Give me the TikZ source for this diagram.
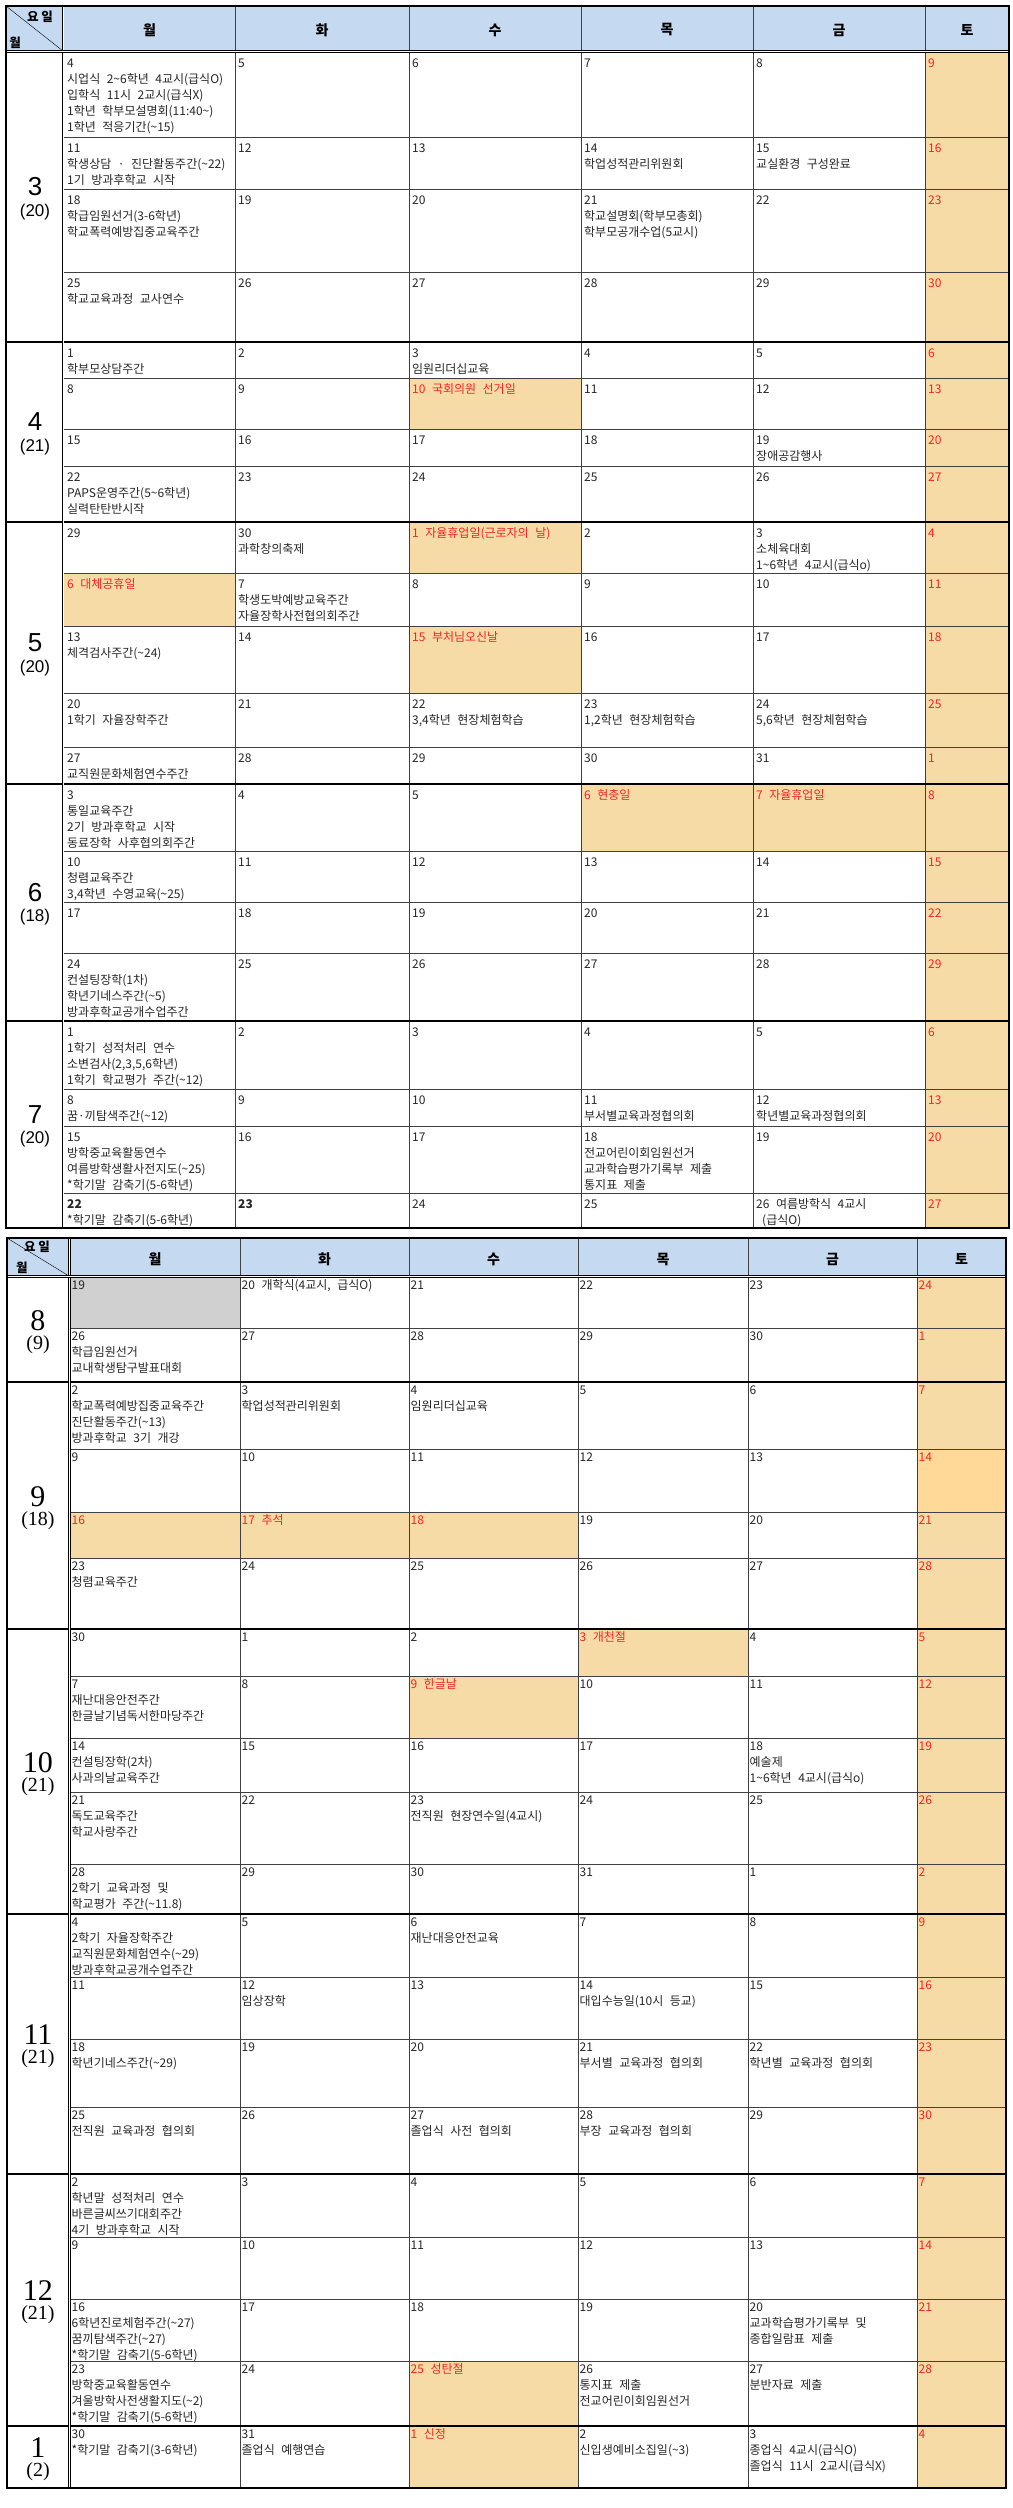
\documentclass[tikz,border=0pt]{standalone}
\usepackage{fontspec}
\setmainfont{Noto Sans CJK KR}
\newfontfamily\armono{Liberation Sans}
\newfontfamily\tmsf{Liberation Serif}
\usepackage{tikz}

\definecolor{hdrblue}{RGB}{197,217,241}
\definecolor{holtan}{RGB}{246,219,167}
\definecolor{holtanB}{RGB}{255,217,152}
\definecolor{offgray}{RGB}{208,208,208}
\definecolor{holred}{RGB}{240,38,38}

\newcommand\hd[1]{\textcolor{holred}{#1}}
\newcommand\wave{\textasciitilde}
\newcommand\cellfont{\fontsize{12}{16}\selectfont\spaceskip=6.5pt\relax}

\tikzset{
  daytext/.style={anchor=north west, inner sep=0pt, align=left, text=black!85, font=\cellfont},
  wkday/.style={font=\fontsize{14}{16}\selectfont\bfseries, inner sep=0pt},
  cornerlbl/.style={font=\fontsize{12.5}{14}\selectfont\bfseries, inner sep=0pt},
  monA/.style={font=\armono\fontsize{26}{28}\selectfont, inner sep=0pt},
  cntA/.style={font=\armono\fontsize{17}{19}\selectfont, inner sep=0pt},
  monB/.style={font=\tmsf\fontsize{30}{32}\selectfont, inner sep=0pt},
  cntB/.style={font=\tmsf\fontsize{20}{22}\selectfont, inner sep=0pt},
  wkline/.style={draw=black!75, line width=0.9pt},
  mline/.style={draw=black, line width=2pt},
  dline/.style={draw=black, double=white, double distance=1pt, line width=0.8pt},
  tblframe/.style={draw=black, line width=2.4pt},
}

\begin{document}
\begin{tikzpicture}[x=1pt,y=-1pt]
\useasboundingbox (0,0) rectangle (1012,2508);

% ---------- first table (3 - 7)
\fill[hdrblue] (6,6) rectangle (1009,52);
\fill[holtan] (925,52) rectangle (1009,1228);
\foreach \a/\b/\c/\d in {409/378/581/429, 409/522/581/573, 64/573/235/626,
                         409/626/581/693, 581/784/925/851}
  \fill[holtan] (\a,\b) rectangle (\c,\d);

\draw (6,6) -- (63,51);
\node[cornerlbl] (yoA) at (40,17) {요 일};
\node[cornerlbl] (wlA) at (15,43) {월};
\foreach \d/\cx [count=\i] in {월/149.5, 화/322, 수/495, 목/667, 금/839, 토/967}
  \node[wkday] (hA\i) at (\cx,30) {\d};

\foreach \m/\n/\a/\b [evaluate={\c=(\a+\b)/2;}] in
    {3/20/52/342, 4/21/342/522, 5/20/522/784, 6/18/784/1021, 7/20/1021/1228}
{
  \node[monA] (m\m) at (35,\c-10) {\m};
  \node[cntA] (n\m) at (35,\c+15) {(\n)};
}

\foreach \x/\y/\s in {
  64/52/{4\\시업식 2\wave6학년 4교시(급식O)\\입학식 11시 2교시(급식X)\\1학년 학부모설명회(11:40\wave)\\1학년 적응기간(\wave15)},
  235/52/5, 409/52/6, 581/52/7, 753/52/8, 925/52/\hd{9},
  64/137/{11\\학생상담 · 진단활동주간(\wave22)\\1기 방과후학교 시작}, 235/137/12, 409/137/13,
  581/137/{14\\학업성적관리위원회}, 753/137/{15\\교실환경 구성완료}, 925/137/\hd{16},
  64/189/{18\\학급임원선거(3-6학년)\\학교폭력예방집중교육주간}, 235/189/19, 409/189/20,
  581/189/{21\\학교설명회(학부모총회)\\학부모공개수업(5교시)}, 753/189/22, 925/189/\hd{23},
  64/272/{25\\학교교육과정 교사연수}, 235/272/26, 409/272/27, 581/272/28, 753/272/29, 925/272/\hd{30},
  % april
  64/342/{1\\학부모상담주간}, 235/342/2, 409/342/{3\\임원리더십교육}, 581/342/4, 753/342/5, 925/342/\hd{6},
  64/378/8, 235/378/9, 409/378/\hd{10 국회의원 선거일}, 581/378/11, 753/378/12, 925/378/\hd{13},
  64/429/15, 235/429/16, 409/429/17, 581/429/18, 753/429/{19\\장애공감행사}, 925/429/\hd{20},
  64/466/{22\\PAPS운영주간(5\wave6학년)\\실력탄탄반시작}, 235/466/23, 409/466/24, 581/466/25, 753/466/26, 925/466/\hd{27},
  % may
  64/522/29, 235/522/{30\\과학창의축제}, 409/522/\hd{1 자율휴업일(근로자의 날)}, 581/522/2,
  753/522/{3\\소체육대회\\1\wave6학년 4교시(급식o)}, 925/522/\hd{4},
  64/573/\hd{6 대체공휴일}, 235/573/{7\\학생도박예방교육주간\\자율장학사전협의회주간}, 409/573/8, 581/573/9, 753/573/10, 925/573/\hd{11},
  64/626/{13\\체격검사주간(\wave24)}, 235/626/14, 409/626/\hd{15 부처님오신날}, 581/626/16, 753/626/17, 925/626/\hd{18},
  64/693/{20\\1학기 자율장학주간}, 235/693/21, 409/693/{22\\3,4학년 현장체험학습},
  581/693/{23\\1,2학년 현장체험학습}, 753/693/{24\\5,6학년 현장체험학습}, 925/693/\hd{25},
  64/747/{27\\교직원문화체험연수주간}, 235/747/28, 409/747/29, 581/747/30, 753/747/31, 925/747/\hd{1},
  % june
  64/784/{3\\통일교육주간\\2기 방과후학교 시작\\동료장학 사후협의회주간}, 235/784/4, 409/784/5,
  581/784/\hd{6 현충일}, 753/784/\hd{7 자율휴업일}, 925/784/\hd{8},
  64/851/{10\\청렴교육주간\\3,4학년 수영교육(\wave25)}, 235/851/11, 409/851/12, 581/851/13, 753/851/14, 925/851/\hd{15},
  64/902/17, 235/902/18, 409/902/19, 581/902/20, 753/902/21, 925/902/\hd{22},
  64/953/{24\\컨설팅장학(1차)\\학년기네스주간(\wave5)\\방과후학교공개수업주간}, 235/953/25, 409/953/26, 581/953/27, 753/953/28, 925/953/\hd{29},
  % july
  64/1021/{1\\1학기 성적처리 연수\\소변검사(2,3,5,6학년)\\1학기 학교평가 주간(\wave12)}, 235/1021/2, 409/1021/3, 581/1021/4, 753/1021/5, 925/1021/\hd{6},
  64/1089/{8\\꿈·끼탐색주간(\wave12)}, 235/1089/9, 409/1089/10, 581/1089/{11\\부서별교육과정협의회},
  753/1089/{12\\학년별교육과정협의회}, 925/1089/\hd{13},
  64/1126/{15\\방학중교육활동연수\\여름방학생활사전지도(\wave25)\\*학기말 감축기(5-6학년)}, 235/1126/16, 409/1126/17,
  581/1126/{18\\전교어린이회임원선거\\교과학습평가기록부 제출\\통지표 제출}, 753/1126/19, 925/1126/\hd{20},
  64/1193/{\textbf{22}\\*학기말 감축기(5-6학년)}, 235/1193/\textbf{23}, 409/1193/24, 581/1193/25,
  753/1193/{26 여름방학식 4교시\\\hspace{6pt}(급식O)}, 925/1193/\hd{27}}
  \node[daytext] (t\x-\y) at (\x+3,\y+4) {\rule{0pt}{11.5pt}\s};

\foreach \y in {137,189,272,378,429,466,573,626,693,747,851,902,953,1089,1126,1193}
  \draw[wkline] (64,\y) -- (1009,\y);
\foreach \x in {235,409,581,753,925}
  \draw[wkline] (\x,6) -- (\x,1228);
\foreach \y in {342,522,784,1021}
  \draw[mline] (6,\y) -- (1009,\y);
\draw[dline] (63,6) -- (63,1228);
\draw[dline] (6,51.5) -- (1009,51.5);
\draw[tblframe] (6,6) rectangle (1009,1228);

% ---------- second table (8 - 1)
\fill[hdrblue] (7,1238) rectangle (1006,1277);
\fill[holtan] (917,1277) rectangle (1006,2488);
\fill[holtanB] (917,1449) rectangle (1006,1512);
\fill[offgray] (70,1277) rectangle (240,1328);
\foreach \a/\b/\c/\d in {70/1512/578/1558, 578/1629/748/1676, 409/1676/578/1738,
                         409/2361/578/2426, 409/2426/578/2488}
  \fill[holtan] (\a,\b) rectangle (\c,\d);

\draw (7,1238) -- (69,1276);
\node[cornerlbl] (yoB) at (37,1247) {요 일};
\node[cornerlbl] (wlB) at (22,1268) {월};
\foreach \d/\cx [count=\i] in {월/155, 화/324.5, 수/493.5, 목/663, 금/832.5, 토/961.5}
  \node[wkday] (hB\i) at (\cx,1259) {\d};

\foreach \m/\n/\a/\b [evaluate={\c=(\a+\b)/2;}] in
    {8/9/1277/1382, 9/18/1382/1629, 10/21/1629/1914, 11/21/1914/2174, 12/21/2174/2426, 1/2/2426/2488}
{
  \node[monB] (m\m) at (38,\c-9) {\m};
  \node[cntB] (n\m) at (38,\c+15) {(\n)};
}

\foreach \x/\y/\s in {
  70/1277/19, 240/1277/{20 개학식(4교시, 급식O)}, 409/1277/21, 578/1277/22, 748/1277/23, 917/1277/\hd{24},
  70/1328/{26\\학급임원선거\\교내학생탐구발표대회}, 240/1328/27, 409/1328/28, 578/1328/29, 748/1328/30, 917/1328/\hd{1},
  % september
  70/1382/{2\\학교폭력예방집중교육주간\\진단활동주간(\wave13)\\방과후학교 3기 개강}, 240/1382/{3\\학업성적관리위원회},
  409/1382/{4\\임원리더십교육}, 578/1382/5, 748/1382/6, 917/1382/\hd{7},
  70/1449/9, 240/1449/10, 409/1449/11, 578/1449/12, 748/1449/13, 917/1449/\hd{14},
  70/1512/\hd{16}, 240/1512/\hd{17 추석}, 409/1512/\hd{18}, 578/1512/19, 748/1512/20, 917/1512/\hd{21},
  70/1558/{23\\청렴교육주간}, 240/1558/24, 409/1558/25, 578/1558/26, 748/1558/27, 917/1558/\hd{28},
  % october
  70/1629/30, 240/1629/1, 409/1629/2, 578/1629/\hd{3 개천절}, 748/1629/4, 917/1629/\hd{5},
  70/1676/{7\\재난대응안전주간\\한글날기념독서한마당주간}, 240/1676/8, 409/1676/\hd{9 한글날}, 578/1676/10, 748/1676/11, 917/1676/\hd{12},
  70/1738/{14\\컨설팅장학(2차)\\사과의날교육주간}, 240/1738/15, 409/1738/16, 578/1738/17,
  748/1738/{18\\예술제\\1\wave6학년 4교시(급식o)}, 917/1738/\hd{19},
  70/1792/{21\\독도교육주간\\학교사랑주간}, 240/1792/22, 409/1792/{23\\전직원 현장연수일(4교시)}, 578/1792/24, 748/1792/25, 917/1792/\hd{26},
  70/1864/{28\\2학기 교육과정 및\\학교평가 주간(\wave11.8)}, 240/1864/29, 409/1864/30, 578/1864/31, 748/1864/1, 917/1864/\hd{2},
  % november
  70/1914/{4\\2학기 자율장학주간\\교직원문화체험연수(\wave29)\\방과후학교공개수업주간}, 240/1914/5,
  409/1914/{6\\재난대응안전교육}, 578/1914/7, 748/1914/8, 917/1914/\hd{9},
  70/1977/11, 240/1977/{12\\임상장학}, 409/1977/13, 578/1977/{14\\대입수능일(10시 등교)}, 748/1977/15, 917/1977/\hd{16},
  70/2039/{18\\학년기네스주간(\wave29)}, 240/2039/19, 409/2039/20, 578/2039/{21\\부서별 교육과정 협의회},
  748/2039/{22\\학년별 교육과정 협의회}, 917/2039/\hd{23},
  70/2107/{25\\전직원 교육과정 협의회}, 240/2107/26, 409/2107/{27\\졸업식 사전 협의회},
  578/2107/{28\\부장 교육과정 협의회}, 748/2107/29, 917/2107/\hd{30},
  % december
  70/2174/{2\\학년말 성적처리 연수\\바른글씨쓰기대회주간\\4기 방과후학교 시작}, 240/2174/3, 409/2174/4, 578/2174/5, 748/2174/6, 917/2174/\hd{7},
  70/2237/9, 240/2237/10, 409/2237/11, 578/2237/12, 748/2237/13, 917/2237/\hd{14},
  70/2299/{16\\6학년진로체험주간(\wave27)\\꿈끼탐색주간(\wave27)\\*학기말 감축기(5-6학년)}, 240/2299/17, 409/2299/18, 578/2299/19,
  748/2299/{20\\교과학습평가기록부 및\\종합일람표 제출}, 917/2299/\hd{21},
  70/2361/{23\\방학중교육활동연수\\겨울방학사전생활지도(\wave2)\\*학기말 감축기(5-6학년)}, 240/2361/24, 409/2361/\hd{25 성탄절},
  578/2361/{26\\통지표 제출\\전교어린이회임원선거}, 748/2361/{27\\분반자료 제출}, 917/2361/\hd{28},
  % january
  70/2426/{30\\*학기말 감축기(3-6학년)}, 240/2426/{31\\졸업식 예행연습}, 409/2426/\hd{1 신정},
  578/2426/{2\\신입생예비소집일(\wave3)}, 748/2426/{3\\종업식 4교시(급식O)\\졸업식 11시 2교시(급식X)}, 917/2426/\hd{4}}
  \node[daytext] (t\x-\y) at (\x+1.5,\y+1) {\rule{0pt}{11.5pt}\s};

\foreach \y in {1328,1449,1512,1558,1676,1738,1792,1864,1977,2039,2107,2237,2299,2361}
  \draw[wkline] (70,\y) -- (1006,\y);
\foreach \x in {240,409,578,748,917}
  \draw[wkline] (\x,1238) -- (\x,2488);
\foreach \y in {1382,1629,1914,2174,2426}
  \draw[mline] (7,\y) -- (1006,\y);
\draw[dline] (69.5,1238) -- (69.5,2488);
\draw[dline] (7,1276.5) -- (1006,1276.5);
\draw[tblframe] (7,1238) rectangle (1006,2488);

\end{tikzpicture}
\end{document}
